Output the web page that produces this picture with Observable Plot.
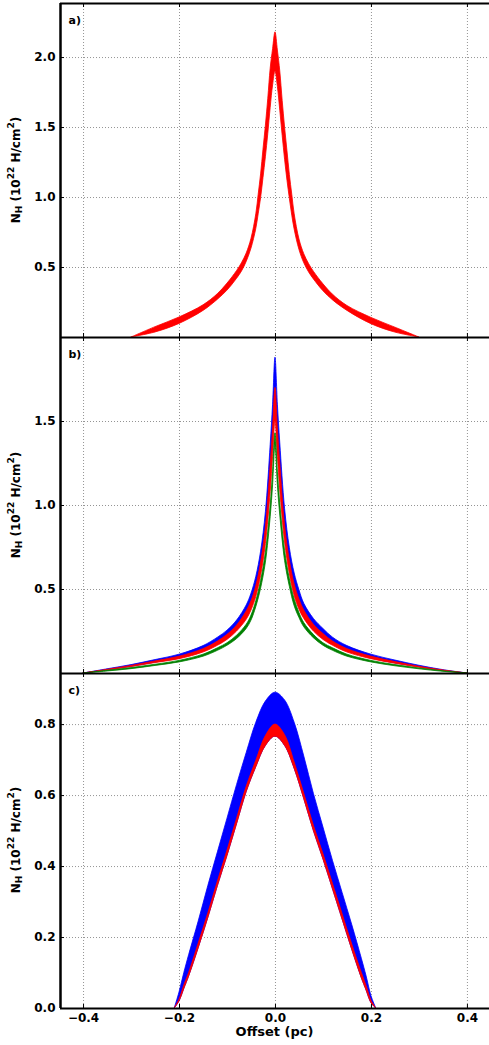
<!DOCTYPE html>
<html><head><meta charset="utf-8">
<script src="https://cdn.jsdelivr.net/npm/d3@7"></script>
<script src="https://cdn.jsdelivr.net/npm/@observablehq/plot@0.6"></script>
<style>
body{margin:0;background:#fff;}
#chart svg{display:block;}
</style></head><body><div id="chart"></div>
<script>
// ---- data: panel a ----
const offsetsA = [-0.30,-0.25,-0.20,-0.15,-0.12,-0.10,-0.08,-0.07,-0.06,-0.05,-0.04,-0.035,-0.03,-0.025,-0.02,-0.015,-0.01,-0.005,0,0.005,0.01,0.015,0.02,0.025,0.03,0.035,0.04,0.05,0.06,0.07,0.08,0.10,0.12,0.15,0.20,0.25,0.30];
const aUpper = [0,0.074,0.143,0.23,0.31,0.385,0.475,0.53,0.60,0.705,0.88,1.02,1.165,1.342,1.513,1.706,1.92,2.06,2.18,2.05,1.90,1.69,1.50,1.33,1.16,1.02,0.88,0.70,0.595,0.525,0.47,0.38,0.305,0.225,0.14,0.07,0];
const aLower = [0,0.036,0.097,0.19,0.27,0.335,0.42,0.47,0.54,0.635,0.775,0.88,0.995,1.138,1.287,1.454,1.64,1.80,1.90,1.79,1.62,1.44,1.27,1.12,0.99,0.87,0.77,0.625,0.53,0.465,0.415,0.33,0.265,0.19,0.095,0.035,0];

// ---- data: panel b ----
const offsetsB = [-0.40,-0.35,-0.30,-0.25,-0.20,-0.15,-0.12,-0.10,-0.08,-0.06,-0.05,-0.04,-0.03,-0.02,-0.01,-0.005,0,0.005,0.01,0.02,0.03,0.04,0.05,0.06,0.08,0.10,0.12,0.15,0.20,0.25,0.30,0.35,0.40];
const bBlueUpper = [0.00,0.025,0.05,0.08,0.112,0.163,0.213,0.255,0.315,0.405,0.475,0.575,0.725,0.96,1.36,1.60,1.88,1.60,1.37,0.98,0.745,0.595,0.495,0.415,0.325,0.265,0.213,0.163,0.112,0.077,0.046,0.02,0.00];
const bBlueLower = [0.00,0.02,0.04,0.065,0.09,0.135,0.18,0.215,0.27,0.35,0.41,0.50,0.63,0.83,1.18,1.40,1.62,1.40,1.19,0.85,0.65,0.51,0.42,0.36,0.28,0.22,0.18,0.135,0.09,0.06,0.038,0.016,0.00];
const bRedUpper = [0,0.022,0.045,0.072,0.10,0.145,0.19,0.23,0.285,0.37,0.43,0.52,0.66,0.87,1.24,1.46,1.70,1.46,1.25,0.88,0.67,0.53,0.44,0.375,0.29,0.235,0.19,0.145,0.10,0.068,0.04,0.018,0];
const bRedLower = [0,0.018,0.038,0.062,0.085,0.125,0.165,0.20,0.25,0.32,0.375,0.455,0.58,0.77,1.08,1.29,1.50,1.29,1.09,0.78,0.59,0.46,0.38,0.325,0.25,0.20,0.165,0.125,0.085,0.058,0.034,0.015,0];
const bGreenUpper = [0,0.016,0.032,0.052,0.075,0.112,0.15,0.18,0.225,0.29,0.345,0.43,0.55,0.72,1.00,1.20,1.43,1.20,1.01,0.73,0.56,0.44,0.36,0.30,0.23,0.18,0.15,0.112,0.075,0.05,0.03,0.013,0];
const bGreenLower = [0,0.012,0.026,0.045,0.066,0.1,0.135,0.165,0.205,0.265,0.315,0.395,0.505,0.66,0.93,1.12,1.36,1.12,0.94,0.67,0.515,0.40,0.33,0.275,0.21,0.165,0.135,0.1,0.066,0.043,0.025,0.01,0];

// ---- data: panel c ----
const offsetsC = [-0.21,-0.20,-0.19,-0.18,-0.16,-0.14,-0.12,-0.10,-0.08,-0.06,-0.04,-0.02,0,0.02,0.04,0.06,0.08,0.10,0.12,0.14,0.16,0.18,0.19,0.20,0.21];
const cBlueUpper = [0,0.045,0.10,0.15,0.245,0.345,0.44,0.535,0.63,0.72,0.805,0.865,0.89,0.868,0.805,0.71,0.605,0.51,0.415,0.325,0.235,0.14,0.09,0.035,0];
const cRedUpper = [0,0.025,0.065,0.10,0.183,0.268,0.358,0.445,0.535,0.625,0.698,0.768,0.80,0.77,0.693,0.605,0.515,0.435,0.35,0.265,0.18,0.10,0.063,0.022,0];
const cRedLower = [0,0.02,0.055,0.09,0.17,0.255,0.345,0.43,0.52,0.61,0.68,0.74,0.766,0.74,0.675,0.59,0.50,0.42,0.335,0.25,0.165,0.085,0.05,0.015,0];

// ---- ticks & labels ----
const xTicks = [-0.4,-0.2,0,0.2,0.4];
const yTicksA = [0.5,1.0,1.5,2.0];
const yTicksB = [0.5,1.0,1.5];
const yTicksC = [0.0,0.2,0.4,0.6,0.8];
const panelLetters = ["a)","b)","c)"];
const xLabel = "Offset (pc)";

const W = 489, ML = 60;
const xDomain = [-0.448, 0.446];
const fmt = d => d.toFixed(1).replace("-", "\u2212");
const FONT = "DejaVu Sans";
const TICK = 4;

function band(xs, lo, hi) { return xs.map((x, i) => ({x, lo: lo[i], hi: hi[i]})); }

function panel({height, mt, mb, yMax, yTicks, bands, letter, showX}) {
  const ph = height - mt - mb, pw = W - ML;
  const marks = [
    Plot.gridX(xTicks, {stroke: "#888", strokeOpacity: 0.9, strokeDasharray: "1,2"}),
    Plot.gridY(yTicks, {stroke: "#888", strokeOpacity: 0.9, strokeDasharray: "1,2"}),
    ...bands.map(b => Plot.areaY(b.data, {x: "x", y1: "lo", y2: "hi", fill: b.color, stroke: b.color, strokeWidth: 0.8, curve: "catmull-rom"})),
    Plot.ruleX(xTicks, {stroke: "black", insetTop: ph - TICK}),
    Plot.ruleX(xTicks, {stroke: "black", insetBottom: ph - TICK}),
    Plot.ruleY(yTicks, {stroke: "black", insetRight: pw - TICK}),
    Plot.ruleY([0], {stroke: "black", strokeWidth: 2}),
    Plot.ruleY([yMax], {stroke: "black", strokeWidth: 2}),
    Plot.ruleX([xDomain[0]], {stroke: "black", strokeWidth: 2.5}),
    Plot.axisY(yTicks, {tickSize: 0, tickPadding: 5, tickFormat: fmt, label: null}),
    Plot.text([letter], {frameAnchor: "top-left", dx: 8, dy: 13, fontSize: 11, fontWeight: "bold"})
  ];
  if (showX) marks.push(Plot.axisX(xTicks, {tickSize: 0, tickPadding: 5, tickFormat: fmt, label: null}));
  return Plot.plot({
    width: W, height,
    marginLeft: ML, marginRight: 0, marginTop: mt, marginBottom: mb,
    x: {domain: xDomain, axis: null},
    y: {domain: [0, yMax], axis: null},
    style: {fontFamily: FONT, fontSize: "12px", fontWeight: "bold", color: "black", background: "white"},
    marks
  });
}

function addYLabel(svg, cy) {
  const t = d3.select(svg).append("text")
    .attr("transform", `translate(16,${cy}) rotate(-90)`)
    .attr("text-anchor", "middle")
    .attr("dominant-baseline", "middle")
    .attr("fill", "black")
    .style("font-family", FONT).style("font-weight", "bold").style("font-size", "12px");
  t.append("tspan").text("N");
  t.append("tspan").attr("dy", 3).style("font-size", "9px").text("H");
  t.append("tspan").attr("dy", -3).text(" (10");
  t.append("tspan").attr("dy", -5).style("font-size", "9px").text("22");
  t.append("tspan").attr("dy", 5).text(" H/cm");
  t.append("tspan").attr("dy", -5).style("font-size", "9px").text("2");
  t.append("tspan").attr("dy", 5).text(")");
}

const chart = document.getElementById("chart");

const pa = panel({height: 337, mt: 3, mb: 0, yMax: 2.386, yTicks: yTicksA, letter: panelLetters[0],
  bands: [{data: band(offsetsA, aLower, aUpper), color: "#ff0000"}]});
addYLabel(pa, 170);
chart.append(pa);

const pb = panel({height: 336, mt: 0, mb: 0, yMax: 2.0, yTicks: yTicksB, letter: panelLetters[1],
  bands: [
    {data: band(offsetsB, bBlueLower, bBlueUpper), color: "#0000ff"},
    {data: band(offsetsB, bRedLower, bRedUpper), color: "#ff0000"},
    {data: band(offsetsB, bGreenLower, bGreenUpper), color: "#008000"}
  ]});
addYLabel(pb, 168);
chart.append(pb);

const pc = panel({height: 372, mt: 0, mb: 37, yMax: 0.944, yTicks: yTicksC, letter: panelLetters[2], showX: true,
  bands: [
    {data: band(offsetsC, cRedLower, cBlueUpper), color: "#0000ff"},
    {data: band(offsetsC, cRedLower, cRedUpper), color: "#ff0000"}
  ]});
addYLabel(pc, 167);
d3.select(pc).append("text")
  .attr("x", (ML + W) / 2).attr("y", 359)
  .attr("text-anchor", "middle").attr("dominant-baseline", "middle")
  .attr("fill", "black")
  .style("font-family", FONT).style("font-weight", "bold").style("font-size", "13px")
  .text(xLabel);
chart.append(pc);
</script></body></html>
